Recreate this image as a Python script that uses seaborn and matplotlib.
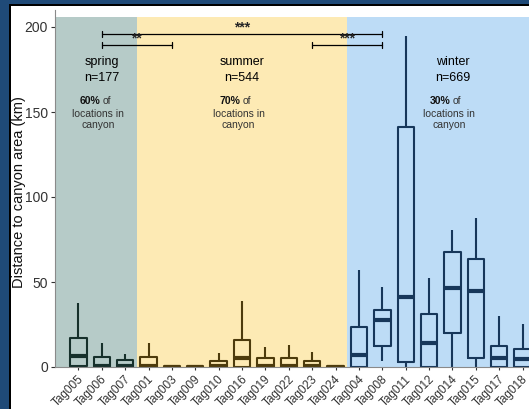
import numpy as np
import pandas as pd
import matplotlib.pyplot as plt
import seaborn as sns
from matplotlib.patches import Rectangle
from matplotlib.transforms import ScaledTranslation

# Five-number summaries (km)
tags = ['Tag005', 'Tag006', 'Tag007',
        'Tag001', 'Tag003', 'Tag009', 'Tag010', 'Tag016', 'Tag019', 'Tag022', 'Tag023', 'Tag024',
        'Tag004', 'Tag008', 'Tag011', 'Tag012', 'Tag014', 'Tag015', 'Tag017', 'Tag018']
season = ['spring'] * 3 + ['summer'] * 9 + ['winter'] * 8
low = [0, 0, 0,
       0, 0, 0, 0, 0, 0, 0, 0, 0,
       0, 3.7, 0, 0, 0, 0, 0, 0]
q1 = [0.3, 0, 0,
      0, 0, 0, 0, 0, 0, 0, 0, 0,
      0, 12.5, 3.1, 0, 20, 5.5, 0, 0]
median = [6.3, 0.6, 0.5,
          0.4, 0.1, 0.1, 0.5, 5.3, 0.5, 0.8, 0.5, 0.1,
          7.1, 27.8, 41, 13.9, 46.3, 44.7, 5.3, 4.7]
q3 = [17.2, 5.7, 3.9,
      6.1, 0.5, 0.5, 3.7, 15.9, 5.1, 5.3, 3.5, 0.5,
      23.7, 33.7, 141.4, 31, 67.6, 63.5, 12.4, 10.4]
high = [37.8, 13.9, 7.6,
        13.9, 0.6, 0.6, 8, 39, 11.6, 12.9, 8.8, 0.6,
        57, 46.9, 194.7, 52.5, 80.6, 87.5, 30, 25.1]

seasons = ['spring', 'summer', 'winter']
season_n = ['n=177', 'n=544', 'n=669']
season_pct = ['60%', '70%', '30%']
bg_cols = ['#b6cbc8', '#fdeab4', '#bddcf6']
line_cols = ['#16302b', '#4d3b0c', '#17375a']

# long table: the 5 values per tag give back the summary with whis=(0, 100)
rows = []
for i, t in enumerate(tags):
    for v in (low[i], q1[i], median[i], q3[i], high[i]):
        rows.append({'tag': t, 'season': season[i], 'dist': v})
df = pd.DataFrame(rows)

sns.set_style('white')
plt.rcParams['font.family'] = ['Liberation Sans', 'DejaVu Sans']

fig = plt.figure(figsize=(5.29, 4.09), dpi=100)
ax = fig.add_axes([55 / 529, 42 / 409, 491 / 529, 357 / 409])

# season background bands
bounds = [-1, 2.5, 11.5, 20]
for k in range(3):
    ax.add_patch(Rectangle((bounds[k], 0), bounds[k + 1] - bounds[k], 206,
                           facecolor=bg_cols[k], edgecolor='none', zorder=0))

sns.boxplot(data=df, x='tag', y='dist', hue='season', order=tags,
            palette=dict(zip(seasons, line_cols)), fill=False, width=0.7,
            whis=(0, 100), showcaps=False, linewidth=1.5, legend=False,
            medianprops={'linewidth': 3}, ax=ax)

ax.set_xlim(-1, 20)
ax.set_ylim(0, 210)
ax.set_yticks([0, 50, 100, 150, 200])
ax.set_xlabel('')
ax.set_ylabel('Distance to canyon area (km)', fontsize=10.5, color='#111111')
ax.yaxis.set_label_coords(-0.06, 0.49)
ax.tick_params(axis='y', labelsize=10, colors='#333333', length=3, width=0.8, left=True, pad=2)
ax.tick_params(axis='x', labelsize=8.5, colors='#333333', length=2, width=0.8, bottom=True, pad=1)
shift = ScaledTranslation(3.5 / 100, -6.5 / 100, fig.dpi_scale_trans)
for lab in ax.get_xticklabels():
    lab.set_rotation(45)
    lab.set_ha('right')
    lab.set_va('center')
    lab.set_rotation_mode('anchor')
    lab.set_transform(lab.get_transform() + shift)
for s in ['top', 'right']:
    ax.spines[s].set_visible(False)
for s in ['left', 'bottom']:
    ax.spines[s].set_color('#8a8a8a')
    ax.spines[s].set_linewidth(0.8)

# significance brackets
brackets = [(1, 13, 195.9, '***'), (1, 4, 189.4, '**'), (10, 13, 189.4, '***')]
for x0, x1, yb, lab in brackets:
    ax.plot([x0, x1], [yb, yb], color='black', lw=0.9)
    ax.plot([x0, x0], [yb - 1.6, yb + 1.6], color='black', lw=0.9)
    ax.plot([x1, x1], [yb - 1.6, yb + 1.6], color='black', lw=0.9)
    ax.text((x0 + x1) / 2, yb - 0.5, lab, ha='center', va='bottom', fontsize=10, fontweight='bold')

# season annotations
centers = [1, 7, 16]
for k in range(3):
    cx = centers[k]
    ax.text(cx, 179.2, seasons[k], ha='center', va='center', fontsize=9, color='black')
    ax.text(cx, 170, season_n[k], ha='center', va='center', fontsize=9, color='black')
    ax.text(cx - 0.08, 156.2, season_pct[k], ha='right', va='center', fontsize=7.5,
            fontweight='bold', color='#111111')
    ax.text(cx + 0.02, 156.2, 'of', ha='left', va='center', fontsize=7.5, color='#333333')
    ax.text(cx - 0.15, 149.1, 'locations in', ha='center', va='center', fontsize=7.5, color='#333333')
    ax.text(cx - 0.15, 142.2, 'canyon', ha='center', va='center', fontsize=7.5, color='#333333')

# dark slide frame on the left and top edges
fig.patches.append(Rectangle((0, 0), 9 / 529, 1, transform=fig.transFigure,
                             facecolor='#1f4a78', edgecolor='none', zorder=5))
fig.patches.append(Rectangle((0, 1 - 4 / 409), 1, 4 / 409, transform=fig.transFigure,
                             facecolor='#1f4a78', edgecolor='none', zorder=5))
fig.patches.append(Rectangle((9 / 529, 0), 2 / 529, 1 - 4 / 409, transform=fig.transFigure,
                             facecolor='black', edgecolor='none', zorder=5))
fig.patches.append(Rectangle((9 / 529, 1 - 6 / 409), 1, 2 / 409, transform=fig.transFigure,
                             facecolor='black', edgecolor='none', zorder=5))

fig.savefig('out.png', dpi=100)
